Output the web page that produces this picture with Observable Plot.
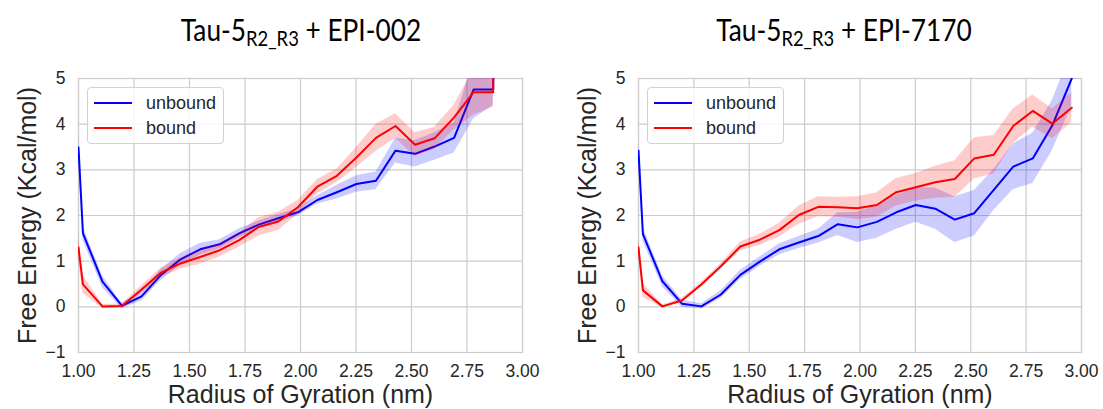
<!DOCTYPE html>
<html>
<head>
<meta charset="utf-8">
<script src="https://cdn.jsdelivr.net/npm/d3@7"></script>
<script src="https://cdn.jsdelivr.net/npm/@observablehq/plot@0.6"></script>
<style>
  html, body { margin: 0; padding: 0; background: white; }
  #wrap { position: relative; width: 1103px; height: 409px; overflow: hidden; }
  .panel { position: absolute; top: 0; }
  .title { position: absolute; top: 14px; font-family: Lato, "Open Sans", sans-serif; font-size: 30px; color: #000; white-space: nowrap; transform: translateX(-50%) scaleX(0.875); line-height: 1; }
  .title sub { font-size: 0.7em; vertical-align: -0.22em; line-height: 0; }
  .legend { position: absolute; top: 87px; width: 135px; height: 55px; border: 1px solid #d2d2d2; border-radius: 4px; background: rgba(255,255,255,0.8); font-family: "Liberation Sans", Arial, sans-serif; font-size: 18px; color: #262626; }
  .legend .sw { position: absolute; left: 6px; width: 38px; height: 2px; }
  .legend .lb { position: absolute; left: 58px; line-height: 1; }
</style>
</head>
<body>
<div id="wrap">
  <div class="panel" id="p1" style="left:0"></div>
  <div class="panel" id="p2" style="left:551px"></div>
  <div class="title" style="left:301px">Tau-5<sub>R2_R3</sub> + EPI-002</div>
  <div class="title" style="left:844px">Tau-5<sub>R2_R3</sub> + EPI-7170</div>
  <div class="legend" style="left:87px">
    <div class="sw" style="top:14px;background:blue"></div><div class="lb" style="top:6px">unbound</div>
    <div class="sw" style="top:39px;background:red"></div><div class="lb" style="top:31px">bound</div>
  </div>
  <div class="legend" style="left:647px">
    <div class="sw" style="top:14px;background:blue"></div><div class="lb" style="top:6px">unbound</div>
    <div class="sw" style="top:39px;background:red"></div><div class="lb" style="top:31px">bound</div>
  </div>
</div>
<script>
const xTicks = [1.00, 1.25, 1.50, 1.75, 2.00, 2.25, 2.50, 2.75, 3.00];
const yTicks = [-1, 0, 1, 2, 3, 4, 5];
const xLabel = "Radius of Gyration (nm)";
const yLabel = "Free Energy (Kcal/mol)";

// Left panel: Tau-5 R2_R3 + EPI-002
const rgLeft = [1.0, 1.02, 1.108, 1.196, 1.284, 1.372, 1.46, 1.548, 1.636, 1.724, 1.812, 1.9, 1.988, 2.076, 2.164, 2.252, 2.34, 2.428, 2.516, 2.604, 2.692, 2.78, 2.868, 2.872];
const unboundLeft = [3.49, 1.61, 0.55, 0.02, 0.23, 0.70, 1.04, 1.26, 1.37, 1.61, 1.80, 1.94, 2.07, 2.34, 2.51, 2.69, 2.76, 3.42, 3.35, 3.51, 3.70, 4.76, 4.76, 8.0];
const unboundLeftErr = [0.2, 0.15, 0.13, 0.06, 0.1, 0.12, 0.13, 0.13, 0.1, 0.1, 0.08, 0.08, 0.08, 0.09, 0.15, 0.18, 0.19, 0.27, 0.29, 0.3, 0.33, 0.64, 0.35, 0.35];
const boundLeft = [1.30, 0.49, 0.01, 0.02, 0.38, 0.75, 0.95, 1.09, 1.24, 1.46, 1.75, 1.87, 2.18, 2.63, 2.87, 3.27, 3.70, 3.96, 3.55, 3.69, 4.15, 4.70, 4.70, 8.0];
const boundLeftErr = [0.25, 0.2, 0.04, 0.04, 0.08, 0.1, 0.12, 0.15, 0.15, 0.15, 0.2, 0.2, 0.15, 0.16, 0.15, 0.22, 0.3, 0.27, 0.26, 0.24, 0.27, 0.5, 0.33, 0.33];

// Right panel: Tau-5 R2_R3 + EPI-7170
const rgRight = [1.0, 1.02, 1.108, 1.196, 1.284, 1.372, 1.46, 1.548, 1.636, 1.724, 1.812, 1.9, 1.988, 2.076, 2.164, 2.252, 2.34, 2.428, 2.516, 2.604, 2.692, 2.78, 2.868, 2.956];
const unboundRight = [3.42, 1.59, 0.56, 0.07, 0.01, 0.27, 0.70, 0.99, 1.26, 1.41, 1.55, 1.81, 1.74, 1.86, 2.07, 2.23, 2.15, 1.91, 2.05, 2.56, 3.07, 3.25, 3.97, 5.0];
const unboundRightErr = [0.2, 0.15, 0.12, 0.08, 0.06, 0.08, 0.1, 0.1, 0.12, 0.13, 0.15, 0.25, 0.33, 0.36, 0.37, 0.38, 0.45, 0.5, 0.5, 0.45, 0.5, 0.55, 0.55, 0.6];
const boundRight = [1.30, 0.36, 0.01, 0.14, 0.49, 0.89, 1.32, 1.47, 1.68, 2.01, 2.19, 2.18, 2.16, 2.23, 2.51, 2.62, 2.73, 2.80, 3.25, 3.33, 3.96, 4.29, 4.01, 4.36];
const boundRightErr = [0.2, 0.15, 0.03, 0.05, 0.05, 0.06, 0.1, 0.12, 0.15, 0.2, 0.22, 0.22, 0.25, 0.27, 0.3, 0.3, 0.35, 0.4, 0.45, 0.42, 0.38, 0.35, 0.33, 0.33];

function panel(xs, ub, ube, bd, bde, width, marginLeft, marginRight) {
  const data = xs.map((x, i) => ({x, u: ub[i], ue: ube[i], b: bd[i], be: bde[i]}));
  const gridStyle = {stroke: "#cccccc", strokeOpacity: 1, strokeWidth: 1.2};
  return Plot.plot({
    width, height: 409,
    marginTop: 78, marginBottom: 57, marginLeft, marginRight,
    style: {fontFamily: "'Liberation Sans', Arial, sans-serif", color: "#262626", background: "white", overflow: "visible"},
    x: {domain: [1, 3]},
    y: {domain: [-1, 5]},
    marks: [
      Plot.gridX(xTicks, gridStyle),
      Plot.gridY(yTicks, gridStyle),
      Plot.frame({stroke: "#cccccc", strokeWidth: 1.2}),
      Plot.areaY(data, {x: "x", y1: d => d.u - d.ue, y2: d => d.u + d.ue, fill: "blue", fillOpacity: 0.2, clip: true}),
      Plot.lineY(data, {x: "x", y: "u", stroke: "blue", strokeWidth: 2, clip: true}),
      Plot.areaY(data, {x: "x", y1: d => d.b - d.be, y2: d => d.b + d.be, fill: "red", fillOpacity: 0.2, clip: true}),
      Plot.lineY(data, {x: "x", y: "b", stroke: "red", strokeWidth: 2, clip: true}),
      Plot.axisX(xTicks, {tickSize: 0, tickPadding: 12, fontSize: 17.5, label: null, tickFormat: d3.format(".2f")}),
      Plot.axisY(yTicks, {tickSize: 0, tickPadding: 13, fontSize: 17.5, label: null, tickFormat: d3.format("d")}),
      Plot.text([yLabel], {text: d => d, frameAnchor: "left", textAnchor: "middle", rotate: -90, dx: -51, fontSize: 25, lineAnchor: "middle", fill: "#262626"}),
      Plot.text([xLabel], {text: d => d, frameAnchor: "bottom", dy: 50, lineAnchor: "bottom", fontSize: 25, fill: "#262626"})
    ]
  });
}

document.getElementById("p1").append(panel(rgLeft, unboundLeft, unboundLeftErr, boundLeft, boundLeftErr, 551, 78, 29));
document.getElementById("p2").append(panel(rgRight, unboundRight, unboundRightErr, boundRight, boundRightErr, 552, 87, 22));
</script>
</body>
</html>
